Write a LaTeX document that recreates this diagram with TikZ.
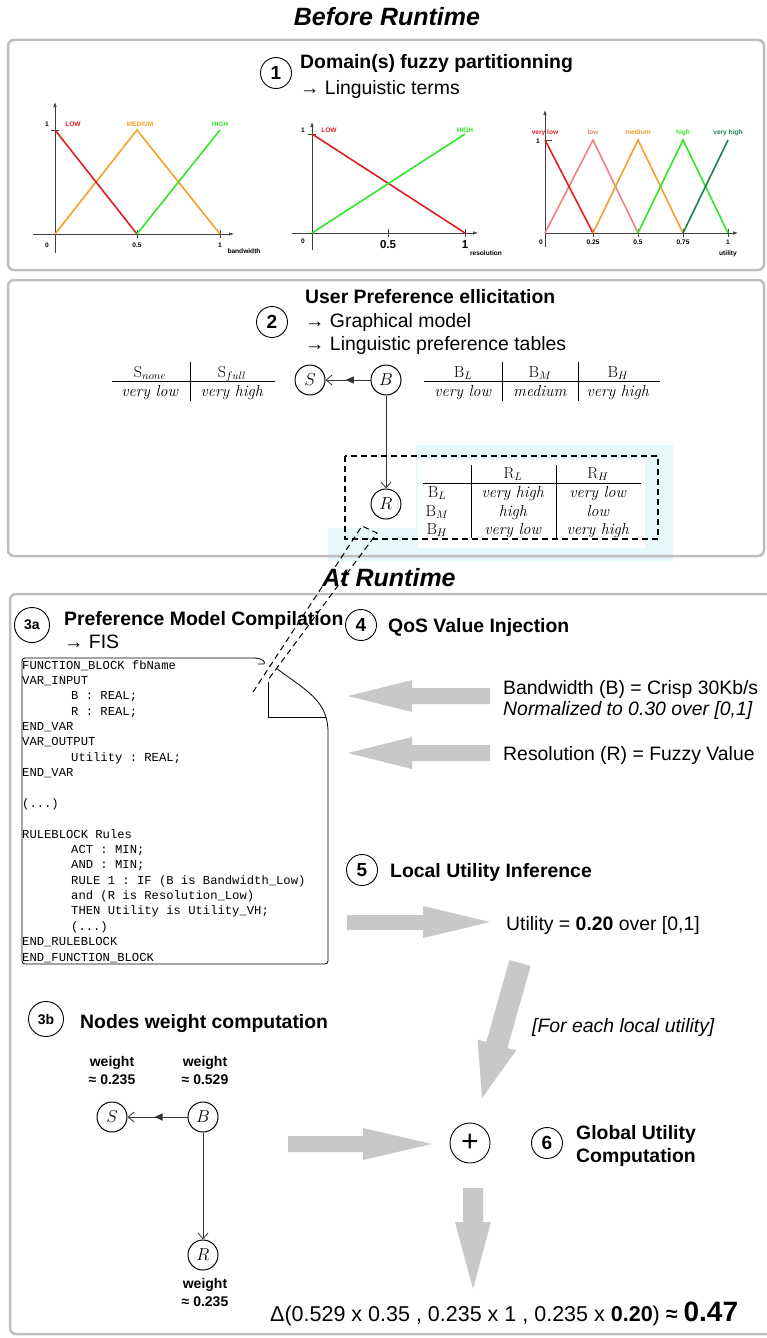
\documentclass[tikz,border=0pt]{standalone}
\usepackage{fontspec}
\setsansfont{Liberation Sans}
\setmonofont{Liberation Mono}
\usetikzlibrary{arrows.meta,decorations.markings}
\definecolor{cred}{RGB}{228,28,36}
\definecolor{corange}{RGB}{245,160,40}
\definecolor{cgreen}{RGB}{50,230,40}
\definecolor{cpink}{RGB}{240,130,130}
\definecolor{cdkgreen}{RGB}{30,130,80}
\definecolor{arrgray}{RGB}{200,200,200}
\definecolor{panelgray}{RGB}{190,190,190}
\definecolor{lightcyan}{RGB}{230,248,252}
\begin{document}
\begin{tikzpicture}[x=1pt,y=-1pt,
  panel/.style={draw=panelgray, line width=2.5pt, rounded corners=6pt},
  garr/.style={fill=arrgray, draw=none},
  stepc/.style={circle, draw, line width=0.9pt, minimum size=31pt, inner sep=0pt, font=\sffamily\bfseries\fontsize{19}{22}\selectfont},
  stepcs/.style={stepc, minimum size=35pt, font=\sffamily\bfseries\fontsize{14}{16}\selectfont},
  hd/.style={anchor=base west, inner sep=0pt, font=\sffamily\bfseries\fontsize{19.4}{23}\selectfont},
  tx/.style={anchor=base west, inner sep=0pt, font=\sffamily\fontsize{19.4}{23}\selectfont},
  ttl/.style={anchor=base, inner sep=0pt, font=\sffamily\bfseries\itshape\fontsize{25}{28}\selectfont},
  gnode/.style={circle, draw, line width=1pt, minimum size=30pt, inner sep=0pt, font=\fontsize{18}{20}\selectfont},
  tab/.style={inner sep=0pt, anchor=base, font=\fontsize{16}{19}\selectfont},
  sm/.style={inner sep=0pt, anchor=base, font=\sffamily\bfseries\fontsize{6.6}{8}\selectfont},
  wt/.style={anchor=base, inner sep=0pt, font=\sffamily\bfseries\fontsize{14}{16}\selectfont},
  code/.style={anchor=base west, inner sep=0pt, font=\ttfamily\fontsize{12.2}{15}\selectfont},
  axis/.style={draw=black!75, line width=0.6pt},
  axarr/.style={axis, -{Latex[length=5pt,width=3.5pt]}},
  mf/.style={line width=1.6pt},
  gedge/.style={draw=black!80, line width=0.8pt, -{Straight Barb[length=6pt,width=10pt,line width=0.8pt]}},
  midtri/.style={postaction={decorate}, decoration={markings, mark=at position 0.55 with {\arrow{Triangle[length=8pt,width=7pt]}}}}
]
\useasboundingbox (0,0) rectangle (766,1338);

% ---------- light cyan highlight (behind) ----------
\fill[lightcyan] (416,445) -- (673,445) -- (673,561) -- (328,561) -- (328,528) -- (416,528) -- cycle;
\fill[white] (418,460) rectangle (645,548);

% ---------- panels ----------
\draw[panel] (8,40) rectangle (764,270);
\draw[panel] (8,280) rectangle (764,556);
\draw[panel] (10,594) rectangle (790,1334);

% ---------- titles ----------
\node[ttl] (t1) at (387,26) {Before Runtime};

% ---------- panel 1 ----------
\node[stepc] (c1) at (276,73) {1};
\node[hd] (h1) at (300,69) {Domain(s) fuzzy partitionning};
\node[tx] (h1b) at (300,94) {→ Linguistic terms};

% chart 1
\draw[axarr] (55,253) -- (55,102);
\draw[axarr] (33,234) -- (234,234);
\draw[axis] (51,130) -- (59,130);
\draw[axis] (137,230) -- (137,238);
\draw[axis] (220,230) -- (220,238);
\draw[mf, corange] (55,234) -- (137,130) -- (220,234);
\draw[mf, cred] (55,130) -- (137,234);
\draw[mf, cgreen] (137,234) -- (220,130);
\node[sm] (l1a) at (47,126) {1};
\node[sm, cred] (l1b) at (73,126) {LOW};
\node[sm, corange] (l1c) at (140,126) {MEDIUM};
\node[sm, cgreen] (l1d) at (220,126) {HIGH};
\node[sm] (l1e) at (47,247) {0};
\node[sm] (l1f) at (137,247) {0.5};
\node[sm] (l1g) at (220,247) {1};
\node[sm] (l1h) at (244,253) {bandwidth};

% chart 2
\draw[axarr] (312,250) -- (312,122);
\draw[axarr] (292,233) -- (478,233);
\draw[axis] (308,134) -- (316,134);
\draw[axis] (388,229) -- (388,237);
\draw[axis] (465,229) -- (465,237);
\draw[mf, cred] (312,134) -- (465,233);
\draw[mf, cgreen] (312,233) -- (465,134);
\node[sm] (l2a) at (303,132) {1};
\node[sm, cred] (l2b) at (329,132) {LOW};
\node[sm, cgreen] (l2c) at (465,132) {HIGH};
\node[sm] (l2d) at (303,243) {0};
\node[sm, font=\sffamily\bfseries\fontsize{11.5}{13}\selectfont] (l2e) at (388,248) {0.5};
\node[sm, font=\sffamily\bfseries\fontsize{11.5}{13}\selectfont] (l2f) at (465,248) {1};
\node[sm] (l2g) at (486,255) {resolution};

% chart 3
\draw[axarr] (545,247) -- (545,110);
\draw[axarr] (545,233) -- (738,233);
\draw[axis] (545,140) -- (552,140);
\foreach \xx in {593,638,683,728} \draw[axis] (\xx,229) -- (\xx,237);
\draw[mf, cpink] (545,233) -- (593,140) -- (638,233);
\draw[mf, cred] (545,140) -- (593,233);
\draw[mf, corange] (593,233) -- (638,140) -- (683,233);
\draw[mf, cgreen] (638,233) -- (683,140) -- (728,233);
\draw[mf, cdkgreen] (683,233) -- (728,140);
\node[sm] (l3a) at (538,143) {1};
\node[sm, cred] (l3b) at (545,134) {very low};
\node[sm, cpink] (l3c) at (593,134) {low};
\node[sm, corange] (l3d) at (638,134) {medium};
\node[sm, cgreen] (l3e) at (683,134) {high};
\node[sm, cdkgreen] (l3f) at (728,134) {very high};
\node[sm] (l3g) at (541,244) {0};
\node[sm] (l3h) at (593,244) {0.25};
\node[sm] (l3i) at (638,244) {0.5};
\node[sm] (l3j) at (683,244) {0.75};
\node[sm] (l3k) at (728,244) {1};
\node[sm] (l3l) at (728,255) {utility};

% ---------- panel 2 ----------
\node[stepc] (c2) at (272,322) {2};
\node[hd] (h2) at (305,303) {User Preference ellicitation};
\node[tx] (h2b) at (305,327) {→ Graphical model};
\node[tx] (h2c) at (305,350) {→ Linguistic preference tables};

% S table
\draw[line width=0.5pt] (112,381) -- (275,381);
\draw[line width=0.5pt] (190,362) -- (190,401);
\node[tab] (ts1) at (150,377) {$\mathrm{S}_{none}$};
\node[tab] (ts2) at (232,377) {$\mathrm{S}_{full}$};
\node[tab] (ts3) at (150,396) {\textit{very low}};
\node[tab] (ts4) at (232,396) {\textit{very high}};

% B table
\draw[line width=0.5pt] (424,381) -- (660,381);
\draw[line width=0.5pt] (502,362) -- (502,401);
\draw[line width=0.5pt] (578,362) -- (578,401);
\node[tab] (tb1) at (463,377) {$\mathrm{B}_L$};
\node[tab] (tb2) at (540,377) {$\mathrm{B}_M$};
\node[tab] (tb3) at (618,377) {$\mathrm{B}_H$};
\node[tab] (tb4) at (463,396) {\textit{very low}};
\node[tab] (tb5) at (540,396) {\textit{medium}};
\node[tab] (tb6) at (618,396) {\textit{very high}};

% graph
\node[gnode] (S1) at (310,380) {$S$};
\node[gnode] (B1) at (386,380) {$B$};
\node[gnode] (R1) at (386,504) {$R$};
\draw[gedge, midtri] (B1) -- (S1);
\draw[gedge] (B1) -- (R1);

% R table
\draw[line width=0.5pt] (423,483) -- (641,483);
\draw[line width=0.5pt] (471,465) -- (471,538);
\draw[line width=0.5pt] (556,465) -- (556,538);
\node[tab] (tr1) at (513,478) {$\mathrm{R}_L$};
\node[tab] (tr2) at (598,478) {$\mathrm{R}_H$};
\node[tab] (tr3) at (437,497) {$\mathrm{B}_L$};
\node[tab] (tr4) at (437,516) {$\mathrm{B}_M$};
\node[tab] (tr5) at (437,534) {$\mathrm{B}_H$};
\node[tab] (tr6) at (513,497) {\textit{very high}};
\node[tab] (tr7) at (598,497) {\textit{very low}};
\node[tab] (tr8) at (513,516) {\textit{high}};
\node[tab] (tr9) at (598,516) {\textit{low}};
\node[tab] (tr10) at (513,534) {\textit{very low}};
\node[tab] (tr11) at (598,534) {\textit{very high}};

% dashed frame
\draw[dashed, line width=1.2pt, dash pattern=on 6pt off 4pt] (345,456) rectangle (658,539);

% ---------- panel 3 ----------
\node[ttl] (t2) at (389,586) {At Runtime};

\node[stepcs] (c3a) at (32,625) {3a};
\node[hd] (h3) at (64,625) {Preference Model Compilation};
\node[tx] (h3b) at (64,648) {→ FIS};

\node[stepc] (c4) at (361,625) {4};
\node[hd] (h4) at (388,632) {QoS Value Injection};

% code document
\draw[line width=0.8pt, rounded corners=3pt] (276,668) .. controls (305,690) and (328,700) .. (328,735) -- (328,964) -- (22,964) -- (22,658) -- (254,658);
\draw[line width=0.8pt] (254,658) .. controls (262,658) and (266,662) .. (264,664) -- (258,664);
\draw[line width=0.8pt] (268,682) -- (268,717) -- (326,717);

\newcommand\codeline[2]{\node[code] at (22,{669+15.37*#1}) {#2};}
\codeline{0}{FUNCTION\_BLOCK fbName}
\codeline{1}{VAR\_INPUT}
\codeline{2}{\hspace*{49pt}B : REAL;}
\codeline{3}{\hspace*{49pt}R : REAL;}
\codeline{4}{END\_VAR}
\codeline{5}{VAR\_OUTPUT}
\codeline{6}{\hspace*{49pt}Utility : REAL;}
\codeline{7}{END\_VAR}
\codeline{9}{(...)}
\codeline{11}{RULEBLOCK Rules}
\codeline{12}{\hspace*{49pt}ACT : MIN;}
\codeline{13}{\hspace*{49pt}AND : MIN;}
\codeline{14}{\hspace*{49pt}RULE 1 : IF (B is Bandwidth\_Low)}
\codeline{15}{\hspace*{49pt}and (R is Resolution\_Low)}
\codeline{16}{\hspace*{49pt}THEN Utility is Utility\_VH;}
\codeline{17}{\hspace*{49pt}(...)}
\codeline{18}{END\_RULEBLOCK}
\codeline{19}{END\_FUNCTION\_BLOCK}

% dashed callout from R table to document
\coordinate (k1) at (362,526);
\coordinate (k2) at (377,533);
\coordinate (k3) at (253,692);
\coordinate (k4) at (268,680);
\draw[dashed, line width=1pt, dash pattern=on 6pt off 4pt] (k3) -- (k1) -- (k2) -- (k4);

% QoS arrows
\fill[garr] (490,688) -- (412,688) -- (412,680) -- (348,696) -- (412,712) -- (412,704) -- (490,704) -- cycle;
\fill[garr] (490,745) -- (412,745) -- (412,737) -- (348,753) -- (412,769) -- (412,761) -- (490,761) -- cycle;
\node[tx] (q1) at (503,694) {Bandwidth (B) = Crisp 30Kb/s};
\node[tx, font=\sffamily\itshape\fontsize{19.4}{23}\selectfont] (q2) at (503,715) {Normalized to 0.30 over [0,1]};
\node[tx] (q3) at (503,760) {Resolution (R) = Fuzzy Value};

% step 5
\node[stepc] (c5) at (362,870) {5};
\node[hd] (h5) at (390,877) {Local Utility Inference};
\fill[garr] (347,915) -- (423,915) -- (423,906) -- (490,922) -- (423,938) -- (423,930) -- (347,930) -- cycle;
\node[tx] (u1) at (506,930) {Utility = \textbf{0.20} over [0,1]};

% diagonal arrow
\fill[garr] (530.6,966.0) -- (507.5,1048.0) -- (516.2,1050.4) -- (482,1098) -- (477.6,1039.6) -- (486.3,1042.0) -- (509.4,960.0) -- cycle;
\node[tx, font=\sffamily\itshape\fontsize{19.4}{23}\selectfont] (fe) at (532,1032) {[For each local utility]};

% step 6
\node[circle, draw, line width=0.9pt, minimum size=40pt, inner sep=0pt, font=\sffamily\fontsize{30}{32}\selectfont] (plus) at (470,1143) {+};
\node[stepc] (c6) at (547,1143) {6};
\node[hd] (h6) at (576,1139) {Global Utility};
\node[hd] (h6b) at (576,1162) {Computation};

\fill[garr] (288,1136) -- (363,1136) -- (363,1128) -- (432,1144) -- (363,1160) -- (363,1152) -- (288,1152) -- cycle;
\fill[garr] (463,1188) -- (483,1188) -- (483,1222) -- (491,1222) -- (473,1289) -- (455,1222) -- (463,1222) -- cycle;

\node[anchor=base west, inner sep=0pt, font=\sffamily\fontsize{21.5}{25}\selectfont] (res) at (270,1321) {Δ(0.529 x 0.35 , 0.235 x 1 , 0.235 x \textbf{0.20}) {\bfseries≈} {\bfseries\fontsize{28}{30}\selectfont 0.47}};

% step 3b
\node[stepcs] (c3b) at (46,1019) {3b};
\node[hd] (h3b2) at (80,1028) {Nodes weight computation};
\node[gnode] (S2) at (112,1117) {$S$};
\node[gnode] (B2) at (203,1117) {$B$};
\node[gnode] (R2) at (203,1255) {$R$};
\draw[gedge, midtri] (B2) -- (S2);
\draw[gedge] (B2) -- (R2);
\node[wt] (w1) at (112,1066) {weight};
\node[wt] (w2) at (112,1084) {≈ 0.235};
\node[wt] (w3) at (205,1066) {weight};
\node[wt] (w4) at (205,1084) {≈ 0.529};
\node[wt] (w5) at (205,1288) {weight};
\node[wt] (w6) at (205,1306) {≈ 0.235};

\end{tikzpicture}
\end{document}
